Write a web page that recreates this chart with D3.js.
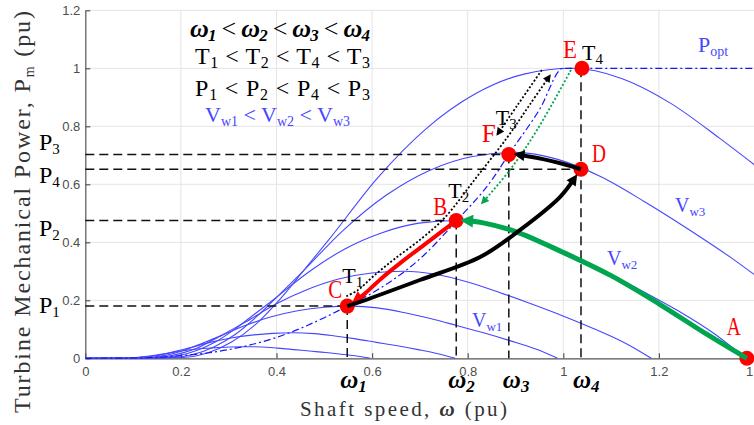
<!DOCTYPE html>
<html lang="en">
<head>
<meta charset="UTF-8">
<title>Turbine power vs shaft speed</title>
<script src="https://d3js.org/d3.v7.min.js"></script>
<style>
  body { margin: 0; background: #fff; }
  svg { display: block; background: #fff; }
  .tick text { font-family: "Liberation Sans", Arial, sans-serif; font-size: 13px; fill: #4d4d4d; }
  .tick line, .domain { stroke: #555; stroke-width: 1.2; }
  .grid line { stroke: #e4e4e4; stroke-width: 1; }
  .curve { fill: none; stroke: #4646ff; stroke-width: 1.1; }
  .guide { stroke: #111; stroke-width: 1.5; stroke-dasharray: 9,5; }
  .serif { font-family: "Liberation Serif", "Times New Roman", serif; }
</style>
</head>
<body>
<script>
var width = 754, height = 425;

// power curves for seven wind speeds, [omega, P] in pu
var curveLow1 = [[0,0],[0.067,0],[0.084,0.001],[0.101,0.002],[0.117,0.005],[0.134,0.008],[0.151,0.012],[0.168,0.016],[0.201,0.025],[0.235,0.032],[0.268,0.036],[0.302,0.039],[0.335,0.040],[0.369,0.039],[0.402,0.035],[0.436,0.030],[0.469,0.025],[0.503,0.020],[0.536,0.014],[0.570,0.007],[0.596,0]];
var curveLow2 = [[0,0],[0.087,0],[0.109,0.002],[0.131,0.005],[0.152,0.010],[0.174,0.018],[0.196,0.027],[0.218,0.036],[0.261,0.055],[0.305,0.070],[0.348,0.080],[0.392,0.086],[0.435,0.088],[0.479,0.085],[0.522,0.077],[0.566,0.067],[0.609,0.055],[0.653,0.043],[0.696,0.030],[0.740,0.015],[0.774,0]];
var curveLow3 = [[0,0],[0.111,0.001],[0.139,0.003],[0.167,0.010],[0.194,0.021],[0.222,0.037],[0.250,0.055],[0.278,0.074],[0.333,0.112],[0.389,0.143],[0.444,0.164],[0.500,0.176],[0.555,0.180],[0.611,0.174],[0.666,0.158],[0.722,0.137],[0.777,0.113],[0.833,0.088],[0.888,0.061],[0.944,0.031],[0.988,0]];
var curveVw1 = [[0,0],[0.133,0.001],[0.166,0.005],[0.200,0.017],[0.233,0.035],[0.266,0.062],[0.299,0.092],[0.333,0.123],[0.399,0.187],[0.466,0.238],[0.532,0.274],[0.599,0.294],[0.665,0.300],[0.732,0.290],[0.798,0.264],[0.865,0.228],[0.931,0.189],[0.998,0.147],[1.064,0.102],[1.131,0.051],[1.184,0]];
var curveVw2 = [[0,0],[0.155,0.001],[0.194,0.009],[0.233,0.027],[0.272,0.056],[0.310,0.097],[0.349,0.146],[0.388,0.195],[0.466,0.296],[0.543,0.377],[0.621,0.433],[0.698,0.466],[0.776,0.475],[0.854,0.458],[0.931,0.418],[1.009,0.361],[1.086,0.299],[1.164,0.233],[1.242,0.162],[1.319,0.081],[1.381,0]];
var curveVw3 = [[0,0],[0.180,0.002],[0.225,0.013],[0.270,0.040],[0.315,0.084],[0.360,0.146],[0.405,0.218],[0.450,0.291],[0.540,0.442],[0.630,0.563],[0.720,0.648],[0.810,0.696],[0.900,0.710],[0.990,0.685],[1.080,0.625],[1.170,0.540],[1.260,0.447],[1.350,0.348],[1.400,0.288]];
var curveTop = [[0,0],[0.204,0.003],[0.255,0.018],[0.306,0.056],[0.357,0.118],[0.408,0.205],[0.459,0.307],[0.510,0.410],[0.612,0.623],[0.714,0.793],[0.816,0.912],[0.918,0.980],[1.020,1.000],[1.122,0.965],[1.224,0.880],[1.326,0.760],[1.400,0.667]];
var curvePopt = [[0,0],[0.1,0.001],[0.2,0.009],[0.3,0.03],[0.4,0.072],[0.5,0.14],[0.548,0.18],[0.6,0.225],[0.7,0.343],[0.776,0.473],[0.85,0.614],[0.886,0.703],[0.95,0.857],[1.0,1.0],[1.4,1.0]];

// operating points
var pointNames = ["A", "B", "C", "D", "E", "F"];
var pointOmega = [1.384, 0.776, 0.548, 1.037, 1.039, 0.886];
var pointPower = [0, 0.475, 0.180, 0.652, 1.0, 0.703];

// guide levels omega_i / P_i
var levelNames = ["1", "2", "3", "4"];
var levelOmega = [0.548, 0.776, 0.886, 1.037];
var levelPower = [0.180, 0.475, 0.703, 0.652];
var levelTop = [0.180, 0.475, 0.703, 1.0];

// trajectories
var pathGreen = [[1.384,0],[1.3,0.083],[1.2,0.188],[1.1,0.285],[1.0,0.365],[0.9,0.437],[0.83,0.468],[0.795,0.475]];
var pathRed = [[0.776,0.475],[0.72,0.405],[0.66,0.33],[0.617,0.272],[0.585,0.223],[0.565,0.197]];
var pathBlackUp = [[0.548,0.18],[0.581,0.198],[0.70,0.27],[0.826,0.349],[0.909,0.442],[0.993,0.556],[1.024,0.622]];
var pathBlackLeft = [[1.037,0.652],[1.0,0.67],[0.96,0.686],[0.925,0.697],[0.905,0.702]];
var dottedUp = [[0.546,0.214],[0.57,0.235],[0.602,0.282],[0.645,0.34],[0.705,0.415],[0.752,0.485],[0.815,0.617],[0.882,0.76],[0.93,0.875],[0.972,0.975]];
var dottedDown = [[0.955,0.994],[0.905,0.875],[0.862,0.772]];
var dottedGreen = [[1.016,0.994],[0.945,0.787],[0.888,0.649],[0.830,0.535]];

var xTicks = [0, 0.2, 0.4, 0.6, 0.8, 1, 1.2, 1.4];
var yTicks = [0, 0.2, 0.4, 0.6, 0.8, 1, 1.2];

var x = d3.scaleLinear().domain([0, 1.4]).range([85.3, 754.5]);
var y = d3.scaleLinear().domain([0, 1.2]).range([358.3, 10.3]);

var svg = d3.select("body").append("svg").attr("width", width).attr("height", height);
var defs = svg.append("defs");

function marker(id, color, w, h, ref) {
    defs.append("marker").attr("id", id)
        .attr("viewBox", "0 0 10 10").attr("refX", ref).attr("refY", 5)
        .attr("markerWidth", w).attr("markerHeight", h)
        .attr("markerUnits", "userSpaceOnUse").attr("orient", "auto")
        .append("path").attr("d", "M0,0L10,5L0,10z").attr("fill", color);
}
marker("arrBlack", "#000", 14, 11, 6);
marker("arrRed", "#ff0000", 18, 13, 6);
marker("arrGreen", "#00a550", 18, 13, 6);
marker("arrDot", "#000", 10, 8, 8);
marker("arrDotGreen", "#00a550", 10, 8, 8);

// grid
svg.append("g").attr("class", "grid").selectAll("line")
    .data(xTicks.slice(1)).enter().append("line")
    .attr("x1", d => x(d)).attr("x2", d => x(d)).attr("y1", y(0)).attr("y2", y(1.2));
svg.append("g").attr("class", "grid").selectAll("line")
    .data(yTicks.slice(1)).enter().append("line")
    .attr("x1", x(0)).attr("x2", x(1.4)).attr("y1", d => y(d)).attr("y2", d => y(d));

// axes, ticks pointing inward like matlab
svg.append("g").attr("transform", "translate(0," + y(0) + ")")
    .call(d3.axisBottom(x).tickValues(xTicks).tickFormat(d3.format("~g"))
        .tickSizeInner(-5).tickSizeOuter(0).tickPadding(8));
svg.append("g").attr("transform", "translate(" + x(0) + ",0)")
    .call(d3.axisLeft(y).tickValues(yTicks).tickFormat(d3.format("~g"))
        .tickSizeInner(-5).tickSizeOuter(0).tickPadding(5));

var smooth = d3.line().x(d => x(d[0])).y(d => y(d[1])).curve(d3.curveMonotoneX);
var bendy = d3.line().x(d => x(d[0])).y(d => y(d[1])).curve(d3.curveCatmullRom.alpha(0.5));

[curveLow1, curveLow2, curveLow3, curveVw1, curveVw2, curveVw3, curveTop].forEach(function(c) {
    svg.append("path").attr("class", "curve").attr("d", smooth(c));
});
svg.append("path").attr("d", smooth(curvePopt)).attr("fill", "none")
    .attr("stroke", "#1414ff").attr("stroke-width", 1.2).attr("stroke-dasharray", "7,3,2,3");

// dashed guides
levelOmega.forEach(function(w, i) {
    svg.append("line").attr("class", "guide")
        .attr("x1", x(0)).attr("x2", x(w)).attr("y1", y(levelPower[i])).attr("y2", y(levelPower[i]));
    svg.append("line").attr("class", "guide")
        .attr("x1", x(w)).attr("x2", x(w)).attr("y1", y(levelTop[i])).attr("y2", y(0));
});

// dotted transitions
svg.append("path").attr("d", bendy(dottedUp)).attr("fill", "none").attr("stroke", "#000")
    .attr("stroke-width", 1.8).attr("stroke-dasharray", "2,2").attr("marker-end", "url(#arrDot)");
svg.append("path").attr("d", bendy(dottedDown)).attr("fill", "none").attr("stroke", "#000")
    .attr("stroke-width", 1.8).attr("stroke-dasharray", "2,2").attr("marker-end", "url(#arrDot)");
svg.append("path").attr("d", bendy(dottedGreen)).attr("fill", "none").attr("stroke", "#00a550")
    .attr("stroke-width", 1.8).attr("stroke-dasharray", "2,2").attr("marker-end", "url(#arrDotGreen)");

// operating points
svg.selectAll(".pt").data(pointNames).enter().append("circle").attr("class", "pt")
    .attr("cx", (d, i) => x(pointOmega[i])).attr("cy", (d, i) => y(pointPower[i]))
    .attr("r", 7.5).attr("fill", "#ff0000");

// thick trajectories
svg.append("path").attr("d", bendy(pathGreen)).attr("fill", "none").attr("stroke", "#00a550")
    .attr("stroke-width", 5).attr("marker-end", "url(#arrGreen)");
svg.append("path").attr("d", bendy(pathRed)).attr("fill", "none").attr("stroke", "#ff0000")
    .attr("stroke-width", 4).attr("marker-end", "url(#arrRed)");
svg.append("path").attr("d", bendy(pathBlackUp)).attr("fill", "none").attr("stroke", "#000")
    .attr("stroke-width", 4).attr("marker-end", "url(#arrBlack)");
svg.append("path").attr("d", bendy(pathBlackLeft)).attr("fill", "none").attr("stroke", "#000")
    .attr("stroke-width", 4).attr("marker-end", "url(#arrBlack)");

// text with subscripts
function rich(px, py, parts, size, subSize, shift, cls) {
    var t = svg.append("text").attr("class", cls || "serif").attr("x", px).attr("y", py).attr("font-size", size);
    var down = false;
    parts.forEach(function(p) {
        var s = t.append("tspan").text(p[0]);
        if (p[1] === "s") {
            s.attr("font-size", subSize);
            if (!down) { s.attr("dy", shift); down = true; }
        } else if (down) { s.attr("dy", -shift); down = false; }
        if (p[2]) s.attr("style", p[2]);
    });
    return t;
}

// point letters
var letterDx = [-20, -23, -19, 11, -19, -27];
var letterDy = [-23, -6, -8, -7, -10, -12];
pointNames.forEach(function(n, i) {
    svg.append("text").attr("class", "serif").attr("x", x(pointOmega[i]) + letterDx[i])
        .attr("y", y(pointPower[i]) + letterDy[i]).attr("font-size", 26).attr("fill", "#ff0000")
        .attr("textLength", 14).attr("lengthAdjust", "spacingAndGlyphs").text(n);
});

// torque labels T1..T4 next to C, B, F, E
var torqueAt = [2, 1, 5, 4];
var torqueDx = [-5, -8, -13, 0];
var torqueDy = [-23, -23, -29, -8];
levelNames.forEach(function(n, i) {
    var k = torqueAt[i];
    rich(x(pointOmega[k]) + torqueDx[i], y(pointPower[k]) + torqueDy[i], [["T"], [n, "s"]], 22, 15, 4)
        .attr("fill", "#000");
});

// P_i labels at the y axis
var pLabelDy = [7, 15, -4, 14];
levelNames.forEach(function(n, i) {
    rich(39, y(levelPower[i]) + pLabelDy[i], [["P"], [n, "s"]], 24, 15, 4).attr("fill", "#000");
});

// omega_i labels under the x axis
var wLabelDx = [-7, -8, -6, -8];
levelNames.forEach(function(n, i) {
    rich(x(levelOmega[i]) + wLabelDx[i], 388, [["ω"], [n, "s"]], 25, 17, 4)
        .attr("fill", "#000").attr("font-weight", "bold").attr("font-style", "italic");
});

// curve labels
var blue = "#4646ff";
rich(698, 52, [["P"], ["opt", "s"]], 22, 14, 4).attr("fill", blue);
rich(675, 212, [["V"], ["w3", "s"]], 20, 13, 4).attr("fill", blue);
rich(607, 265, [["V"], ["w2", "s"]], 20, 13, 4).attr("fill", blue);
rich(472, 327, [["V"], ["w1", "s"]], 20, 13, 4).attr("fill", blue);

// inequality block
rich(190, 37, [["ω"], ["1", "s"], [" < ", "", "font-style:normal;font-weight:normal"], ["ω"], ["2", "s"],
    [" < ", "", "font-style:normal;font-weight:normal"], ["ω"], ["3", "s"],
    [" < ", "", "font-style:normal;font-weight:normal"], ["ω"], ["4", "s"]], 26, 17, 4)
    .attr("font-weight", "bold").attr("font-style", "italic").attr("fill", "#000")
    .attr("textLength", 180).attr("lengthAdjust", "spacing");
rich(195, 64, [["T"], ["1", "s"], [" < "], ["T"], ["2", "s"], [" < "], ["T"], ["4", "s"], [" < "], ["T"], ["3", "s"]], 24, 16, 4)
    .attr("fill", "#000").attr("textLength", 175).attr("lengthAdjust", "spacing");
rich(195, 96, [["P"], ["1", "s"], [" < "], ["P"], ["2", "s"], [" < "], ["P"], ["4", "s"], [" < "], ["P"], ["3", "s"]], 24, 16, 4)
    .attr("fill", "#000").attr("textLength", 175).attr("lengthAdjust", "spacing");
rich(205, 122, [["V"], ["w1", "s"], [" < "], ["V"], ["w2", "s"], [" < "], ["V"], ["w3", "s"]], 22, 14, 4)
    .attr("fill", blue).attr("textLength", 145).attr("lengthAdjust", "spacing");

// axis titles
rich(300, 416, [["Shaft speed,  "], ["ω", "", "font-weight:bold;font-style:italic"], [" (pu)"]], 21, 13, 4)
    .attr("fill", "#333").attr("textLength", 207).attr("lengthAdjust", "spacing");
rich(0, 0, [["Turbine Mechanical Power,  P"], ["m", "s"], [" (pu)"]], 24, 14, 4)
    .attr("fill", "#333").attr("transform", "translate(30,413) rotate(-90)")
    .attr("textLength", 402).attr("lengthAdjust", "spacing");
</script>
</body>
</html>
